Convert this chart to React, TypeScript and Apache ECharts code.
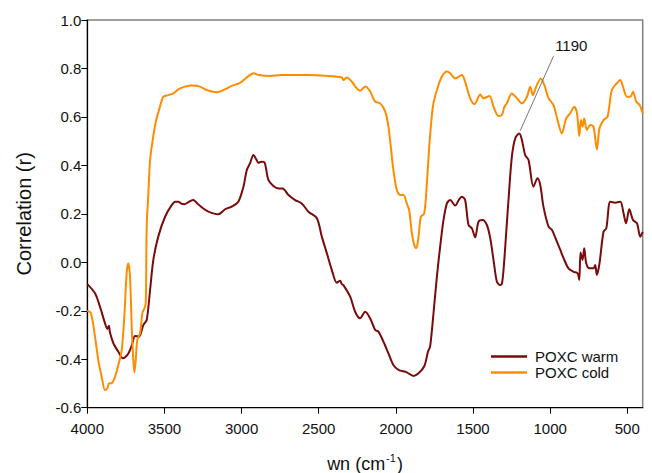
import React, { useEffect, useRef } from "react";
import * as echarts from "echarts";

const warmWn = [4000,3950,3918,3885,3870,3860,3853,3831,3799,3770,3755,3734,3710,3691,3665,3637,3615,3593,3572,3540,3496,3453,3430,3410,3390,3371,3340,3313,3290,3258,3215,3150,3107,3064,3021,2988,2966,2945,2923,2905,2891,2870,2852,2826,2794,2760,2735,2696,2653,2610,2567,2512,2480,2447,2415,2383,2361,2350,2340,2296,2264,2232,2199,2167,2134,2113,2080,2048,2016,1983,1929,1886,1853,1815,1792,1778,1756,1734,1713,1691,1669,1648,1615,1590,1572,1551,1529,1507,1486,1464,1438,1410,1388,1367,1345,1324,1313,1302,1291,1270,1248,1226,1200,1183,1162,1140,1108,1082,1064,1043,1010,988,956,934,913,881,848,822,811,803,790,779,766,745,719,708,697,680,654,636,610,578,545,524,508,487,463,437,416,400];
const warmR = [-0.09,-0.128,-0.183,-0.252,-0.275,-0.262,-0.29,-0.334,-0.369,-0.396,-0.392,-0.376,-0.34,-0.304,-0.307,-0.259,-0.238,-0.114,0.01,0.106,0.188,0.236,0.25,0.25,0.242,0.24,0.25,0.257,0.245,0.227,0.209,0.198,0.219,0.23,0.25,0.312,0.381,0.409,0.443,0.425,0.411,0.415,0.413,0.34,0.315,0.305,0.305,0.278,0.257,0.243,0.209,0.182,0.106,0.037,-0.032,-0.084,-0.076,-0.09,-0.094,-0.142,-0.204,-0.231,-0.204,-0.231,-0.279,-0.286,-0.328,-0.376,-0.424,-0.444,-0.454,-0.469,-0.458,-0.428,-0.369,-0.348,-0.21,-0.059,0.064,0.175,0.243,0.257,0.234,0.26,0.271,0.257,0.154,0.14,0.103,0.168,0.175,0.154,0.099,0.01,-0.08,-0.094,-0.09,-0.03,0.064,0.257,0.436,0.512,0.532,0.505,0.443,0.422,0.312,0.347,0.319,0.229,0.147,0.133,0.085,0.051,0.017,-0.025,-0.039,-0.045,-0.073,0.04,0.01,0.058,-0.004,-0.025,-0.025,-0.011,-0.052,-0.004,0.126,0.14,0.25,0.246,0.25,0.202,0.161,0.219,0.175,0.161,0.106,0.126];

const coldWn = [4000,3976,3950,3929,3907,3885,3870,3859,3842,3820,3799,3777,3760,3745,3734,3723,3712,3702,3695,3686,3676,3658,3643,3630,3621,3615,3604,3593,3576,3556,3535,3507,3475,3442,3410,3366,3323,3269,3226,3161,3107,3064,3010,2966,2923,2891,2815,2739,2567,2458,2350,2340,2318,2285,2253,2232,2199,2167,2134,2101,2069,2048,2026,2016,1994,1972,1951,1929,1914,1896,1881,1868,1853,1838,1816,1799,1782,1760,1734,1702,1669,1648,1615,1572,1551,1518,1490,1453,1432,1393,1367,1335,1313,1296,1280,1248,1215,1183,1150,1129,1112,1090,1060,1038,1010,978,952,924,896,870,844,826,811,800,790,779,762,740,719,697,680,654,628,600,567,545,528,502,480,463,442,420,400];
const coldR = [-0.2,-0.21,-0.307,-0.403,-0.472,-0.527,-0.52,-0.5,-0.499,-0.472,-0.424,-0.362,-0.224,-0.045,-0.004,-0.059,-0.266,-0.403,-0.455,-0.403,-0.321,-0.293,-0.21,-0.19,-0.169,0.147,0.285,0.422,0.505,0.58,0.629,0.683,0.69,0.697,0.714,0.725,0.73,0.725,0.711,0.702,0.714,0.728,0.741,0.763,0.78,0.773,0.769,0.773,0.773,0.77,0.763,0.752,0.763,0.745,0.718,0.708,0.726,0.706,0.663,0.656,0.622,0.56,0.436,0.381,0.298,0.278,0.278,0.243,0.216,0.12,0.071,0.058,0.106,0.188,0.202,0.326,0.491,0.642,0.711,0.766,0.787,0.78,0.759,0.773,0.745,0.677,0.653,0.693,0.677,0.686,0.642,0.604,0.608,0.642,0.656,0.697,0.677,0.656,0.683,0.725,0.69,0.725,0.759,0.732,0.677,0.649,0.587,0.532,0.594,0.615,0.642,0.615,0.521,0.587,0.56,0.594,0.546,0.567,0.56,0.466,0.553,0.587,0.601,0.711,0.739,0.752,0.725,0.683,0.683,0.704,0.663,0.649,0.615];

const seriesNames = ["POXC warm", "POXC cold"];
const xTicks = [4000, 3500, 3000, 2500, 2000, 1500, 1000, 500];
const annotationText = "1190";
const arrowFrom = [978, 0.851];
const arrowTo = [1194, 0.543];
const annotationPos = [863, 0.893];

const FONT = 'Arial, "Liberation Sans", sans-serif';

export default function App() {
  const ref = useRef<HTMLDivElement>(null);
  useEffect(() => {
    if (!ref.current) return;
    const chart = echarts.init(ref.current, null, { renderer: "svg" });
    const warm = warmWn.map((w, i) => [w, warmR[i]]);
    const cold = coldWn.map((w, i) => [w, coldR[i]]);
    chart.setOption({
      animation: false,
      backgroundColor: "#fff",
      textStyle: { fontFamily: FONT },
      grid: {
        left: 87.3, right: 9.3, top: 20, bottom: 65.3,
        outerBoundsMode: "none", containLabel: false,
        show: true, borderColor: "#808080", borderWidth: 1.5, backgroundColor: "transparent",
      },
      legend: {
        data: seriesNames,
        orient: "vertical",
        left: 486, top: 344,
        icon: "rect",
        itemWidth: 36, itemHeight: 2.5, itemGap: 1,
        textStyle: { fontSize: 15, color: "#111", fontFamily: FONT, padding: [0, 0, 0, 3] },
      },
      xAxis: {
        type: "value", inverse: true, min: 400, max: 4000,
        name: "{n|wn (cm}{s|-1}{n|)}",
        nameLocation: "middle", nameGap: 45,
        nameTextStyle: {
          rich: {
            n: { fontSize: 18, color: "#111", fontFamily: FONT, lineHeight: 20, verticalAlign: "bottom" },
            s: { fontSize: 11, color: "#111", fontFamily: FONT, lineHeight: 20, verticalAlign: "top", padding: [0, 1, 8, 1] },
          },
        },
        axisLine: { show: true, onZero: false, lineStyle: { color: "#000", width: 1.2 } },
        axisTick: { show: true, customValues: xTicks, length: 6, lineStyle: { color: "#000", width: 1 } },
        axisLabel: { customValues: xTicks, margin: 13, fontSize: 15, color: "#111", fontFamily: FONT, formatter: (v: number) => String(v) },
        splitLine: { show: false },
      },
      yAxis: {
        type: "value", min: -0.6, max: 1.0, interval: 0.2,
        name: "Correlation (r)", nameLocation: "middle", nameGap: 53,
        nameTextStyle: { fontSize: 20, color: "#111", fontFamily: FONT },
        axisLine: { show: true, lineStyle: { color: "#000", width: 1.2 } },
        axisTick: { show: true, length: 6, lineStyle: { color: "#000", width: 1 } },
        axisLabel: { margin: 6, fontSize: 15, color: "#111", fontFamily: FONT, formatter: (v: number) => v.toFixed(1) },
        splitLine: { show: false },
      },
      series: [
        {
          name: seriesNames[0], type: "line", data: warm, symbol: "none", smooth: 0.3,
          lineStyle: { color: "#7b0a0a", width: 2 }, itemStyle: { color: "#7b0a0a" },
          markLine: {
            silent: true, symbol: ["none", "arrow"], symbolSize: [0, 8],
            lineStyle: { color: "#555", width: 0.8, type: "solid" },
            label: { show: false },
            data: [[{ coord: arrowFrom }, { coord: arrowTo }]],
          },
          markPoint: {
            silent: true, symbol: "circle", symbolSize: 0,
            label: { show: true, position: "inside", formatter: annotationText, fontSize: 15, color: "#111", fontFamily: FONT },
            data: [{ coord: annotationPos }],
          },
        },
        {
          name: seriesNames[1], type: "line", data: cold, symbol: "none", smooth: 0.3,
          lineStyle: { color: "#ff8c00", width: 2 }, itemStyle: { color: "#ff8c00" },
        },
      ],
    });
    return () => chart.dispose();
  }, []);
  return <div ref={ref} style={{ position: "fixed", left: 0, top: 0, width: 652, height: 473 }} />;
}
